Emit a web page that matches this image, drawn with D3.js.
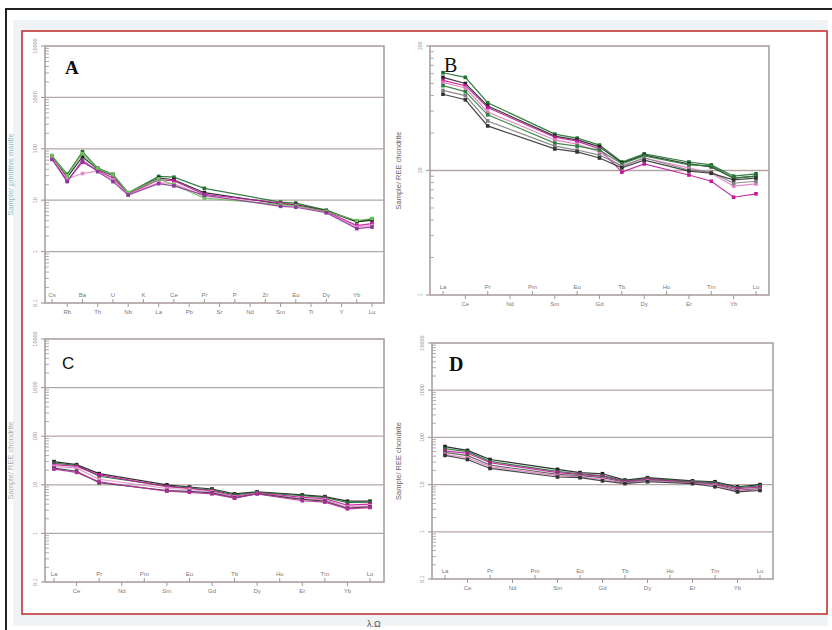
<!DOCTYPE html>
<html>
<head>
<meta charset="utf-8">
<script src="https://cdn.jsdelivr.net/npm/d3@7/dist/d3.min.js"></script>
<style>
  body { margin: 0; background: #fff; }
  svg { display: block; }
</style>
</head>
<body>
<div id="chart"></div>
<script>
// element order on the x axes
const spiderElements = ["Cs","Rb","Ba","Th","U","Nb","K","La","Ce","Pb","Pr","Sr","P","Nd","Zr","Sm","Eu","Ti","Dy","Y","Yb","Lu"];
const reeElements = ["La","Ce","Pr","Nd","Pm","Sm","Eu","Gd","Tb","Dy","Ho","Er","Tm","Yb","Lu"];

const logTicksWide = [0.1, 1, 10, 100, 1000, 10000];
const logTicksNarrow = [1, 10, 100];

// A : sample / primitive mantle (null = not analysed)
const valuesA = [
  [72, 32, 88, 42, 32, 14, null, 29, 28, null, 17, null, null, null, null, 9.2, 8.8, null, 6.4, null, 3.9, 4.3],
  [70, 28, 70, 40, 30, 13.5, null, 27, 25, null, 14, null, null, null, null, 8.5, 8.2, null, 6.2, null, 3.8, 4.1],
  [65, 24, 55, 38, 27, 13, null, 25, 24, null, 13, null, null, null, null, 8.8, 8.0, null, 6.0, null, 3.2, 3.5],
  [66, 26, 33, 37, 25, 13.2, null, 22, 21, null, 12, null, null, null, null, 8.0, 7.6, null, 5.8, null, 3.0, 3.2],
  [74, 30, 80, 41, 31, 14, null, 26, 20, null, 11, null, null, null, null, 8.2, 7.8, null, 6.1, null, 4.0, 4.4],
  [62, 23, 60, 36, 23, 12.6, null, 21, 19, null, 12.5, null, null, null, null, 7.6, 7.3, null, 5.7, null, 2.8, 3.0]
];
const colorsA = ["#1f6f2f", "#1a1a1a", "#c0189a", "#e58ac8", "#6cc05a", "#8a3a9a"];

// B : sample / chondrite
const valuesB = [
  [61, 56, 35, null, null, 19.6, 18.2, 16.0, 11.7, 13.6, null, 11.7, 11.1, 9.0, 9.4],
  [56, 50, 33, null, null, 18.9, 17.6, 15.5, 11.5, 13.3, null, 11.3, 10.7, 8.7, 9.0],
  [53, 48, 32, null, null, 18.5, 17.2, 14.9, 9.7, 11.3, null, 9.2, 8.2, 6.1, 6.5],
  [51, 46, 29.5, null, null, 17.6, 16.3, 14.1, 10.7, 12.6, null, 10.5, 9.5, 7.5, 7.8],
  [48, 43, 28, null, null, 16.6, 15.7, 14.6, 11.3, 13.1, null, 11.1, 10.9, 8.7, 9.0],
  [44, 40, 25, null, null, 15.7, 14.6, 13.3, 10.9, 12.6, null, 10.1, 9.7, 7.9, 8.2],
  [41, 37, 22.8, null, null, 14.9, 14.1, 12.6, 10.5, 12.1, null, 9.9, 9.5, 8.4, 8.7]
];
const colorsB = ["#1f6f2f", "#222222", "#c0189a", "#e07cc0", "#2f7f3a", "#808080", "#333333"];

// C : sample / chondrite
const valuesC = [
  [30, 26, 17, null, null, 10.0, 9.0, 8.2, 6.5, 7.2, null, 6.2, 5.7, 4.6, 4.6],
  [28, 25, 15, null, null, 9.4, 8.6, 7.8, 6.2, 7.0, null, 6.0, 5.5, 4.3, 4.4],
  [26, 24, 16, null, null, 9.2, 8.4, 7.5, 5.8, 6.8, null, 5.5, 5.2, 3.8, 4.0],
  [24, 22, 13, null, null, 8.4, 8.0, 7.2, 5.6, 6.7, null, 5.2, 4.9, 3.5, 3.7],
  [22, 19, 11, null, null, 7.6, 7.3, 6.8, 5.4, 6.6, null, 5.0, 4.6, 3.3, 3.5],
  [21, 18, 11.5, null, null, 7.4, 7.0, 6.5, 5.3, 6.5, null, 4.7, 4.4, 3.2, 3.4]
];
const colorsC = ["#1a1a1a", "#1f6f2f", "#c0189a", "#e58ac8", "#333333", "#b0309a"];

// D : sample / chondrite
const valuesD = [
  [64, 53, 34, null, null, 21, 18, 17, 12.5, 14, null, 12, 11.5, 9.0, 10.0],
  [58, 50, 31, null, null, 19, 17, 15.5, 12, 13.5, null, 11.6, 11, 8.6, 9.4],
  [52, 46, 29, null, null, 18, 16.5, 15, 11.6, 13, null, 11.2, 10.4, 8.2, 8.8],
  [48, 41, 26, null, null, 16.5, 15.5, 14, 11.2, 12.4, null, 11, 10, 7.6, 8.2],
  [44, 37, 24, null, null, 15.5, 14.6, 13, 10.8, 12, null, 10.7, 9.6, 7.2, 7.8],
  [41.5, 34, 22, null, null, 14.5, 14, 12, 10.5, 11.5, null, 10.5, 9.0, 7.0, 7.5]
];
const colorsD = ["#1a1a1a", "#1f6f2f", "#c0189a", "#555555", "#e07cc0", "#333333"];

const width = 832;
const height = 630;

const svg = d3.select("#chart")
  .append("svg")
  .attr("width", width)
  .attr("height", height)
  .style("font-family", "Arial, 'Liberation Sans', sans-serif");

// window background, black border and red frame
svg.append("rect")
  .attr("x", 13).attr("y", 20).attr("width", 815).attr("height", 606)
  .attr("fill", "#f0f3f5");
svg.append("rect")
  .attr("x", 22).attr("y", 31).attr("width", 805).attr("height", 583)
  .attr("fill", "#fff")
  .attr("stroke", "#c43434")
  .attr("stroke-width", 1.6);
svg.append("line")
  .attr("x1", 5).attr("x2", 832).attr("y1", 9).attr("y2", 9)
  .attr("stroke", "#222").attr("stroke-width", 2);
svg.append("line")
  .attr("x1", 6).attr("x2", 6).attr("y1", 8).attr("y2", 630)
  .attr("stroke", "#222").attr("stroke-width", 2);

svg.append("text")
  .attr("x", 367).attr("y", 627)
  .attr("font-size", 9).attr("fill", "#555")
  .text("λ.Ω");

const panels = [
  { letter: "A", elements: spiderElements, values: valuesA, colors: colorsA, yTicks: logTicksWide,
    box: [45, 384, 46, 303], xr: [52, 372],
    letterPos: [65, 74], letterFont: "'Liberation Serif', serif", letterSize: 19, letterWeight: "bold",
    yTitle: "Sample/ primitive mantle", yTitleX: 13, yTitleColor: "#7fb8c8" },
  { letter: "B", elements: reeElements, values: valuesB, colors: colorsB, yTicks: logTicksNarrow,
    box: [430, 769, 46, 295], xr: [443, 756],
    letterPos: [444, 72], letterFont: "'Liberation Serif', serif", letterSize: 20, letterWeight: "normal",
    yTitle: "Sample/ REE chondrite", yTitleX: 401, yTitleColor: "#666" },
  { letter: "C", elements: reeElements, values: valuesC, colors: colorsC, yTicks: logTicksWide,
    box: [45, 384, 339, 582], xr: [54, 370],
    letterPos: [62, 369], letterFont: "'Liberation Sans', Arial, sans-serif", letterSize: 17, letterWeight: "normal",
    yTitle: "Sample/ REE chondrite", yTitleX: 13, yTitleColor: "#aaa" },
  { letter: "D", elements: reeElements, values: valuesD, colors: colorsD, yTicks: logTicksWide,
    box: [432, 773, 343, 579], xr: [445, 760],
    letterPos: [449, 371], letterFont: "'Liberation Serif', serif", letterSize: 20, letterWeight: "bold",
    yTitle: "Sample/ REE chondrite", yTitleX: 401, yTitleColor: "#666" }
];

panels.forEach(drawPanel);

function drawPanel(p) {
  const [x0, x1, y0, y1] = p.box;
  const g = svg.append("g").attr("class", "panel-" + p.letter);

  const yMin = d3.min(p.yTicks);
  const yMax = d3.max(p.yTicks);
  const scaleY = d3.scaleLog().domain([yMin, yMax]).range([y1, y0]);
  const scaleX = d3.scalePoint().domain(p.elements).range(p.xr);

  const frameColor = "#ad9f9f";

  // grid lines at each decade
  g.selectAll(".grid")
    .data(p.yTicks.filter(d => d !== yMin && d !== yMax))
    .enter()
    .append("line")
    .attr("x1", x0).attr("x2", x1)
    .attr("y1", d => scaleY(d)).attr("y2", d => scaleY(d))
    .attr("stroke", "#b3a6a6")
    .attr("stroke-width", 1.3);

  // frame
  g.append("rect")
    .attr("x", x0).attr("y", y0)
    .attr("width", x1 - x0).attr("height", y1 - y0)
    .attr("fill", "none")
    .attr("stroke", frameColor)
    .attr("stroke-width", 1.6);

  // minor ticks inside the left axis
  const minor = scaleY.ticks().filter(d => p.yTicks.indexOf(d) < 0);
  g.selectAll(".minor")
    .data(minor)
    .enter()
    .append("line")
    .attr("x1", x0).attr("x2", x0 + 4)
    .attr("y1", d => scaleY(d)).attr("y2", d => scaleY(d))
    .attr("stroke", "#999")
    .attr("stroke-width", 0.8);

  // major ticks and rotated labels
  g.selectAll(".major")
    .data(p.yTicks)
    .enter()
    .append("line")
    .attr("x1", x0 - 4).attr("x2", x0)
    .attr("y1", d => scaleY(d)).attr("y2", d => scaleY(d))
    .attr("stroke", frameColor)
    .attr("stroke-width", 1.2);
  g.selectAll(".ylabel")
    .data(p.yTicks)
    .enter()
    .append("text")
    .attr("transform", d => `translate(${x0 - 8}, ${scaleY(d)}) rotate(-90)`)
    .attr("text-anchor", "middle")
    .attr("font-size", 5.5)
    .attr("fill", "#888")
    .text(d => d < 1 ? "0.1" : d3.format("d")(d));

  // x ticks, alternating above and below the axis
  p.elements.forEach((el, i) => {
    const x = scaleX(el);
    const up = i % 2 === 0;
    g.append("line")
      .attr("x1", x).attr("x2", x)
      .attr("y1", y1).attr("y2", up ? y1 - 4 : y1 + 4)
      .attr("stroke", "#999")
      .attr("stroke-width", 1);
    g.append("text")
      .attr("x", x)
      .attr("y", up ? y1 - 6 : y1 + 11)
      .attr("text-anchor", "middle")
      .attr("font-size", 6)
      .attr("fill", "#777")
      .text(el);
  });

  // y axis title
  g.append("text")
    .attr("transform", `translate(${p.yTitleX}, ${(y0 + y1) / 2}) rotate(-90)`)
    .attr("text-anchor", "middle")
    .attr("font-size", 7.5)
    .attr("fill", p.yTitleColor)
    .text(p.yTitle);

  // series
  const line = d3.line()
    .x(d => scaleX(d.el))
    .y(d => scaleY(d.v));

  p.values.forEach((vals, s) => {
    const pts = vals
      .map((v, i) => ({ el: p.elements[i], v: v }))
      .filter(d => d.v != null);
    const color = p.colors[s % p.colors.length];
    g.append("path")
      .datum(pts)
      .attr("d", line)
      .attr("fill", "none")
      .attr("stroke", color)
      .attr("stroke-width", 1.2)
      .attr("opacity", 0.9);
    g.selectAll(".pt" + s)
      .data(pts)
      .enter()
      .append("rect")
      .attr("x", d => scaleX(d.el) - 1.8)
      .attr("y", d => scaleY(d.v) - 1.8)
      .attr("width", 3.6)
      .attr("height", 3.6)
      .attr("fill", color);
  });

  // panel letter
  g.append("text")
    .attr("x", p.letterPos[0])
    .attr("y", p.letterPos[1])
    .attr("font-family", p.letterFont)
    .attr("font-size", p.letterSize)
    .attr("font-weight", p.letterWeight)
    .attr("fill", "#111")
    .text(p.letter);
}
</script>
</body>
</html>
